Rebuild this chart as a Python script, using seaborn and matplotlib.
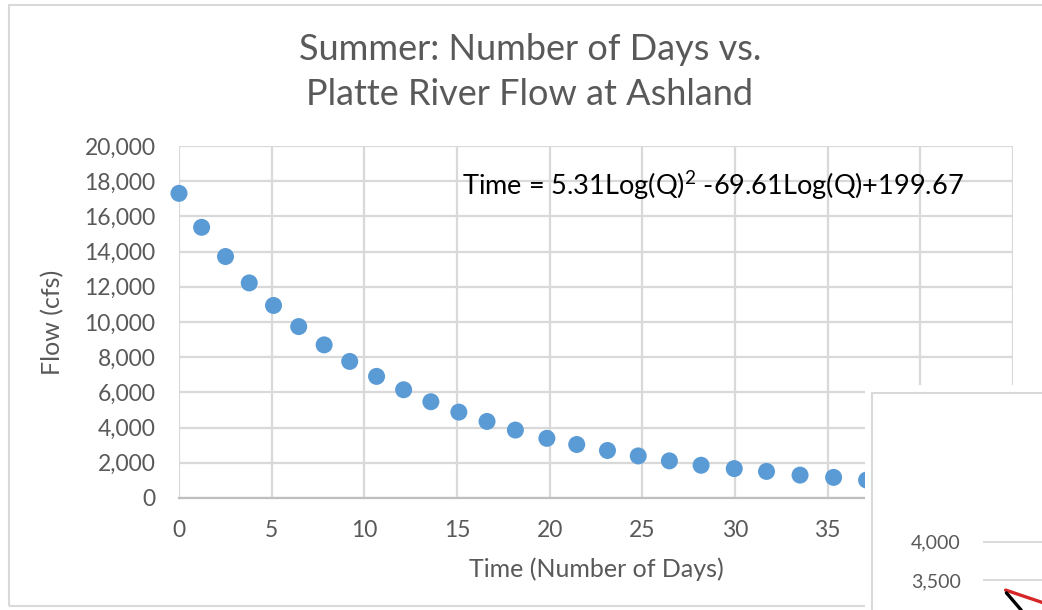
import matplotlib
matplotlib.use("Agg")
import matplotlib.pyplot as plt
from matplotlib.patches import Rectangle
from matplotlib.ticker import FuncFormatter
import pandas as pd
import seaborn as sns

# values
days = [0.0, 1.22, 2.51, 3.79, 5.10, 6.46, 7.83, 9.21, 10.66, 12.12, 13.59,
        15.10, 16.62, 18.15, 19.85, 21.46, 23.12, 24.78, 26.46, 28.17, 29.96,
        31.70, 33.51, 35.32, 37.10]
flow_cfs = [17310, 15380, 13720, 12220, 10940, 9740, 8700, 7760, 6910, 6150,
            5470, 4880, 4350, 3860, 3390, 3040, 2700, 2390, 2110, 1860, 1670,
            1510, 1300, 1170, 1020]
x_ticks = [0, 5, 10, 15, 20, 25, 30, 35, 40, 45]
y_ticks = list(range(0, 20001, 2000))
inset_ticks = [3500, 4000]

title = "Summer: Number of Days vs.\nPlatte River Flow at Ashland"
equation = r"Time = 5.31Log(Q)$^{2}$ -69.61Log(Q)+199.67"

df = pd.DataFrame({"Time (Number of Days)": days, "Flow (cfs)": flow_cfs})

sns.set_style("white")
plt.rcParams["font.family"] = ["Lato", "DejaVu Sans"]
plt.rcParams["mathtext.fontset"] = "custom"
plt.rcParams["mathtext.rm"] = "Lato"

text_grey = "#595959"
grid_grey = "#d9d9d9"
dot_blue = "#5b9bd5"

W, H = 1042, 610
fig = plt.figure(figsize=(W / 100, H / 100), dpi=100)
fig.patch.set_facecolor("white")

# chart frame (Excel-like border)
fig.patches.append(Rectangle((9 / W, 1 - 606 / H), 1.2, (606 - 5) / H,
                             transform=fig.transFigure, fill=False,
                             edgecolor=grid_grey, linewidth=1.5, zorder=0))

ax = fig.add_axes([179 / W, 1 - 498 / H, (1013 - 179) / W, (498 - 146) / H])
sns.scatterplot(data=df, x="Time (Number of Days)", y="Flow (cfs)", ax=ax,
                color=dot_blue, s=150, edgecolor="none", zorder=3, clip_on=False)

ax.set_xlim(0, 45)
ax.set_ylim(0, 20000)
ax.set_xticks(x_ticks)
ax.set_yticks(y_ticks)
ax.set_xticklabels([str(t) if t <= 35 else "" for t in x_ticks])
ax.yaxis.set_major_formatter(FuncFormatter(lambda v, p: f"{int(v):,}"))
ax.grid(True, color=grid_grey, linewidth=1.6)
ax.set_axisbelow(True)
for side in ["top", "right", "left"]:
    ax.spines[side].set_visible(False)
ax.spines["bottom"].set_color("#bfbfbf")
ax.spines["bottom"].set_linewidth(1.6)
ax.tick_params(axis="both", length=0, labelsize=16.5, colors=text_grey)
ax.tick_params(axis="y", pad=17)
ax.tick_params(axis="x", pad=16)
ax.set_xlabel("Time (Number of Days)", fontsize=18, color=text_grey, labelpad=12)
ax.set_ylabel("Flow (cfs)", fontsize=18, color=text_grey, labelpad=14)

fig.text(530 / W, 1 - 72 / H, title, ha="center", va="center", fontsize=26,
         color=text_grey, linespacing=1.42)
ax.text(462 / W, 1 - 185 / H, equation, transform=fig.transFigure,
        ha="left", va="center", fontsize=19.5, color="black")

# overlapping piece of a second chart in the lower right corner
fig.patches.append(Rectangle((865 / W, -0.05), 0.2, (1 - 385 / H) + 0.05,
                             transform=fig.transFigure, facecolor="white",
                             edgecolor="none", zorder=5))
fig.patches.append(Rectangle((872 / W, -0.05), 0.2, (1 - 393 / H) + 0.05,
                             transform=fig.transFigure, facecolor="white",
                             edgecolor=grid_grey, linewidth=1.5, zorder=6))

inset = fig.add_axes([983 / W, 0, 80 / W, (610 - 393) / H], zorder=7)
inset.patch.set_alpha(0)
px_per_unit = (580 - 541.7) / 500
inset.set_ylim(3500 - (610 - 580) / px_per_unit, 4000 + (541.7 - 393) / px_per_unit)
inset.set_xlim(0, 1)
inset.set_yticks(inset_ticks)
inset.yaxis.set_major_formatter(FuncFormatter(lambda v, p: f"{int(v):,}"))
inset.set_xticks([])
inset.grid(True, axis="y", color=grid_grey, linewidth=1.4)
for side in inset.spines:
    inset.spines[side].set_visible(False)
inset.tick_params(axis="y", length=0, labelsize=14, colors=text_grey, pad=16)
inset.annotate("", xy=(1.1, 3080), xytext=(0.25, 3380), annotation_clip=False,
               arrowprops=dict(arrowstyle="-", color="#d62728", linewidth=2.4))
inset.annotate("", xy=(0.5, 3080), xytext=(0.27, 3360), annotation_clip=False,
               arrowprops=dict(arrowstyle="-", color="black", linewidth=2.4))

fig.savefig("out.png", dpi=100, facecolor="white")
